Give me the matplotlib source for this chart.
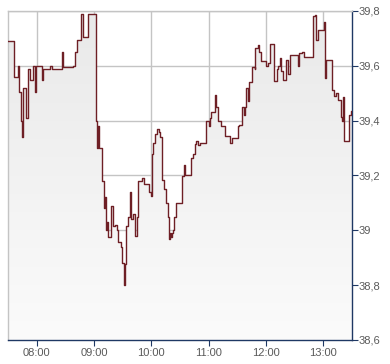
import matplotlib
matplotlib.use("Agg")
import matplotlib.pyplot as plt
import matplotlib.dates as mdates
import numpy as np
import pandas as pd

# Intraday quotes (step series)
times = [
    "07:30", "07:36", "07:40", "07:42", "07:44", "07:45", "07:46", "07:49",
    "07:51", "07:53", "07:56", "07:58", "07:59", "08:06", "08:07", "08:14",
    "08:16", "08:27", "08:28", "08:38", "08:40", "08:42", "08:46", "08:48",
    "08:54", "09:02", "09:03", "09:04", "09:05", "09:08", "09:10", "09:11",
    "09:13", "09:14", "09:15", "09:18", "09:20", "09:22", "09:24", "09:25",
    "09:28", "09:29", "09:31", "09:32", "09:34", "09:36", "09:38", "09:39",
    "09:41", "09:43", "09:45", "09:46", "09:50", "09:52", "09:58", "10:00",
    "10:01", "10:02", "10:04", "10:06", "10:08", "10:09", "10:11", "10:13",
    "10:15", "10:17", "10:19", "10:20", "10:21", "10:22", "10:23", "10:24",
    "10:26", "10:32", "10:34", "10:35", "10:42", "10:44", "10:46", "10:47",
    "10:49", "10:51", "10:57", "11:00", "11:01", "11:02", "11:07", "11:08",
    "11:10", "11:13", "11:17", "11:22", "11:24", "11:31", "11:32", "11:35",
    "11:37", "11:38", "11:39", "11:41", "11:42", "11:45", "11:48", "11:49",
    "11:52", "11:53", "11:55", "12:00", "12:02", "12:04", "12:08", "12:11",
    "12:13", "12:15", "12:16", "12:18", "12:21", "12:23", "12:25", "12:33",
    "12:35", "12:38", "12:40", "12:49", "12:51", "12:52", "12:54", "13:01",
    "13:02", "13:03", "13:09", "13:11", "13:13", "13:15", "13:18", "13:20",
    "13:21", "13:22", "13:27", "13:29", "13:30",
]
prices = [
    39.69, 39.56, 39.60, 39.505, 39.40, 39.34, 39.52, 39.41,
    39.59, 39.55, 39.60, 39.505, 39.60, 39.55, 39.59, 39.60,
    39.59, 39.65, 39.597, 39.60, 39.65, 39.696, 39.79, 39.704,
    39.79, 39.40, 39.30, 39.38, 39.30, 39.18, 39.08, 39.12,
    39.00, 39.03, 38.975, 39.09, 39.015, 39.02, 39.00, 38.956,
    38.94, 38.88, 38.80, 38.876, 39.015, 39.05, 39.14, 39.04,
    39.06, 38.98, 39.05, 39.18, 39.19, 39.17, 39.14, 39.125,
    39.28, 39.32, 39.35, 39.37, 39.36, 39.34, 39.185, 39.15,
    39.10, 39.05, 38.97, 38.99, 38.975, 38.99, 39.00, 39.05,
    39.10, 39.197, 39.24, 39.20, 39.265, 39.28, 39.315, 39.325,
    39.31, 39.32, 39.40, 39.38, 39.41, 39.43, 39.495, 39.45,
    39.40, 39.38, 39.345, 39.32, 39.335, 39.38, 39.385, 39.45,
    39.42, 39.45, 39.52, 39.47, 39.54, 39.595, 39.59, 39.664,
    39.675, 39.65, 39.616, 39.60, 39.61, 39.68, 39.545, 39.59,
    39.60, 39.63, 39.58, 39.55, 39.62, 39.57, 39.64, 39.60,
    39.646, 39.65, 39.634, 39.78, 39.785, 39.695, 39.73, 39.76,
    39.555, 39.62, 39.513, 39.49, 39.50, 39.476, 39.415, 39.40,
    39.485, 39.325, 39.42, 39.436, 39.436,
]

y_ticks = [38.6, 38.8, 39.0, 39.2, 39.4, 39.6, 39.8]
y_labels = ["38,6", "38,8", "39", "39,2", "39,4", "39,6", "39,8"]
x_ticks = ["08:00", "09:00", "10:00", "11:00", "12:00", "13:00"]

day = "2024-01-02 "
t = pd.to_datetime([day + s for s in times])
xt = pd.to_datetime([day + s for s in x_ticks])

line_color = "#6e1f25"
axis_color = "#1f3864"
grid_color = "#c4c4c4"
label_color = "#5a5a5a"

fig = plt.figure(figsize=(3.9, 3.64), dpi=100)
ax = fig.add_axes([8 / 390, 24 / 364, 344 / 390, 329 / 364])

ymin, ymax = 38.6, 39.8
x0 = mdates.date2num(pd.Timestamp(day + "07:30"))
x1 = mdates.date2num(pd.Timestamp(day + "13:30"))

# filled area under the step line with a soft vertical gradient
fill = ax.fill_between(t, prices, ymin, step="post", color="none", lw=0)
grad = np.linspace(0, 1, 256).reshape(-1, 1)
img = ax.imshow(grad, extent=[x0, x1, ymin, ymax], origin="lower",
                aspect="auto", cmap=matplotlib.colors.LinearSegmentedColormap.from_list(
                    "g", ["#fbfbfb", "#e9e9e9"]), zorder=1)
img.set_clip_path(fill.get_paths()[0], transform=ax.transData)

ax.step(t, prices, where="post", color=line_color, lw=1.0, zorder=3)

ax.set_xlim(x0, x1)
ax.set_ylim(ymin, ymax)

ax.set_yticks(y_ticks)
ax.set_yticklabels(y_labels)
ax.set_xticks(xt)
ax.set_xticklabels(x_ticks)

ax.grid(True, color=grid_color, lw=1.0, zorder=0)
ax.set_axisbelow(True)

ax.yaxis.tick_right()
ax.tick_params(axis="y", direction="out", length=4, width=0.8, color=axis_color,
               labelcolor=label_color, labelsize=8, pad=1)
ax.tick_params(axis="x", direction="out", length=4, width=0.8, color=axis_color,
               labelcolor=label_color, labelsize=8, pad=2)
for lab in ax.get_xticklabels() + ax.get_yticklabels():
    lab.set_family("Liberation Sans")

ax.spines["left"].set_color(grid_color)
ax.spines["top"].set_color(grid_color)
ax.spines["right"].set_color(axis_color)
ax.spines["bottom"].set_color(axis_color)
for s in ax.spines.values():
    s.set_linewidth(1.0)

fig.savefig("out.png", dpi=100)
